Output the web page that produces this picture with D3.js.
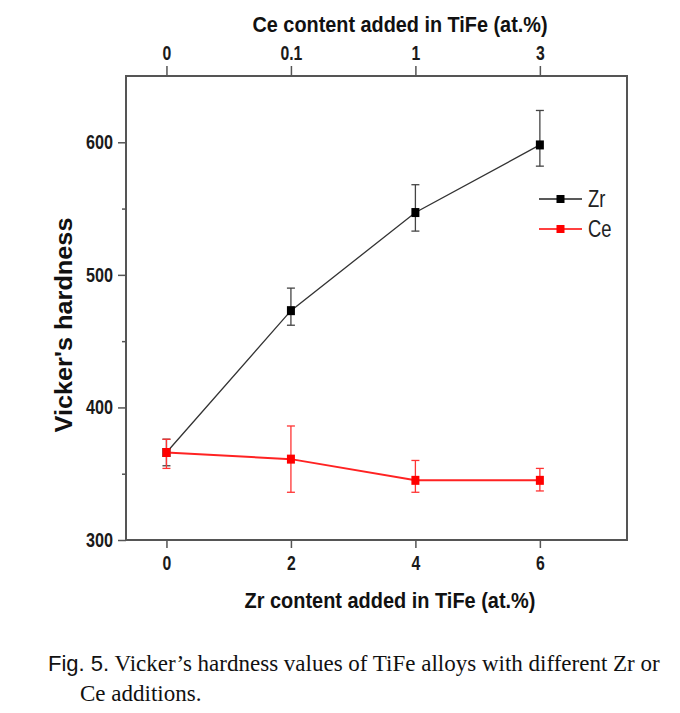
<!DOCTYPE html>
<html>
<head>
<meta charset="utf-8">
<script src="https://cdn.jsdelivr.net/npm/d3@7"></script>
<style>
  body { margin: 0; background: #fff; }
  svg { display: block; }
</style>
</head>
<body>
<script>
// Vicker's hardness of TiFe with Zr / Ce additions

// data
var zrContent = [0, 2, 4, 6];                 // bottom axis (at.%)
var zrHardness = [366, 473, 547, 598];
var zrLow = [356, 462, 533, 582];
var zrHigh = [376, 490, 568, 624];

var ceContent = ["0", "0.1", "1", "3"];       // top axis (at.%)
var ceHardness = [366, 361, 345, 345];
var ceLow = [354, 336, 336, 337];
var ceHigh = [376, 386, 360, 354];

var yTicks = [300, 400, 500, 600];
var yMinor = [350, 450, 550];

var w = 680, h = 713;
var plotLeft = 126, plotRight = 627, plotTop = 76, plotBottom = 540;

var svg = d3.select("body").append("svg")
    .attr("width", w)
    .attr("height", h);

var x = d3.scaleLinear().domain([-0.65, 7.4]).range([plotLeft, plotRight]);
var xTop = d3.scalePoint().domain(ceContent).range([x(0), x(6)]);
var y = d3.scaleLinear().domain([300, 650]).range([plotBottom, plotTop]);

var frameColor = "#555";
var labelFont = "'Liberation Sans', Arial, sans-serif";
var serifFont = "'Liberation Serif', 'Times New Roman', serif";

//squeeze text horizontally, the figure uses a narrow font
function squeeze(sel, k) {
    sel.each(function() {
        var len = this.getComputedTextLength();
        d3.select(this)
            .attr("textLength", len * k)
            .attr("lengthAdjust", "spacingAndGlyphs");
    });
}

//axes
var gx = svg.append("g")
    .attr("transform", "translate(0," + plotBottom + ")")
    .call(d3.axisBottom(x).tickValues(zrContent).tickSize(8).tickPadding(7).tickFormat(d3.format("d")));

var gxTop = svg.append("g")
    .attr("transform", "translate(0," + plotTop + ")")
    .call(d3.axisTop(xTop).tickSize(10).tickPadding(6));

var gy = svg.append("g")
    .attr("transform", "translate(" + plotLeft + ",0)")
    .call(d3.axisLeft(y).tickValues(yTicks).tickSize(8).tickPadding(5));

var gyMinor = svg.append("g")
    .attr("transform", "translate(" + plotLeft + ",0)")
    .call(d3.axisLeft(y).tickValues(yMinor).tickSize(4).tickFormat(""));

[gx, gxTop, gy, gyMinor].forEach(function(g) {
    g.select(".domain").remove();
    g.selectAll("line").attr("stroke", frameColor).attr("stroke-width", 1.5);
    g.selectAll("text")
        .attr("fill", "#1a1a1a")
        .style("font-family", labelFont)
        .style("font-weight", "bold")
        .style("font-size", "20.5px");
});
squeeze(gx.selectAll("text"), 0.77);
squeeze(gxTop.selectAll("text"), 0.77);
squeeze(gy.selectAll("text"), 0.79);

//frame
svg.append("rect")
    .attr("x", plotLeft)
    .attr("y", plotTop)
    .attr("width", plotRight - plotLeft)
    .attr("height", plotBottom - plotTop)
    .attr("fill", "none")
    .attr("stroke", frameColor)
    .attr("stroke-width", 2);

//axis titles
svg.append("text")
    .attr("x", 400)
    .attr("y", 32)
    .attr("text-anchor", "middle")
    .style("font-family", labelFont)
    .style("font-weight", "bold")
    .style("font-size", "22.5px")
    .attr("fill", "#111")
    .attr("textLength", 295)
    .attr("lengthAdjust", "spacingAndGlyphs")
    .text("Ce content added in TiFe (at.%)");

svg.append("text")
    .attr("x", 390)
    .attr("y", 608)
    .attr("text-anchor", "middle")
    .style("font-family", labelFont)
    .style("font-weight", "bold")
    .style("font-size", "22.5px")
    .attr("fill", "#111")
    .attr("textLength", 291)
    .attr("lengthAdjust", "spacingAndGlyphs")
    .text("Zr content added in TiFe (at.%)");

svg.append("text")
    .attr("transform", "translate(72,325) rotate(-90)")
    .attr("text-anchor", "middle")
    .style("font-family", labelFont)
    .style("font-weight", "bold")
    .style("font-size", "23px")
    .attr("fill", "#111")
    .attr("textLength", 215)
    .attr("lengthAdjust", "spacingAndGlyphs")
    .text("Vicker's hardness");

//series
var zrData = zrContent.map(function(d, i) {
    return { px: x(d), v: zrHardness[i], lo: zrLow[i], hi: zrHigh[i] };
});
var ceData = ceContent.map(function(d, i) {
    return { px: xTop(d), v: ceHardness[i], lo: ceLow[i], hi: ceHigh[i] };
});

var line = d3.line()
    .x(function(d) { return d.px; })
    .y(function(d) { return y(d.v); });

function drawSeries(data, color, lineColor, lineWidth, barColor) {
    var g = svg.append("g");
    g.append("path")
        .datum(data)
        .attr("d", line)
        .attr("fill", "none")
        .attr("stroke", lineColor)
        .attr("stroke-width", lineWidth);

    var bars = g.selectAll(".err")
        .data(data)
        .enter()
        .append("g")
        .attr("class", "err")
        .attr("stroke", barColor)
        .attr("stroke-width", 1.3);
    bars.append("line")
        .attr("x1", function(d) { return d.px; })
        .attr("x2", function(d) { return d.px; })
        .attr("y1", function(d) { return y(d.lo); })
        .attr("y2", function(d) { return y(d.hi); });
    bars.append("line")
        .attr("x1", function(d) { return d.px - 4; })
        .attr("x2", function(d) { return d.px + 4; })
        .attr("y1", function(d) { return y(d.lo); })
        .attr("y2", function(d) { return y(d.lo); });
    bars.append("line")
        .attr("x1", function(d) { return d.px - 4; })
        .attr("x2", function(d) { return d.px + 4; })
        .attr("y1", function(d) { return y(d.hi); })
        .attr("y2", function(d) { return y(d.hi); });

    g.selectAll(".mark")
        .data(data)
        .enter()
        .append("rect")
        .attr("class", "mark")
        .attr("x", function(d) { return d.px - 4; })
        .attr("y", function(d) { return y(d.v) - 4.5; })
        .attr("width", 8)
        .attr("height", 9)
        .attr("fill", color);
}

drawSeries(zrData, "#000", "#333", 1.3, "#444");
drawSeries(ceData, "#f00", "#f22", 2, "#f33");

//legend
var legend = [
    { name: "Zr", color: "#000", line: "#222", y: 199 },
    { name: "Ce", color: "#f00", line: "#f00", y: 229 }
];
var lg = svg.selectAll(".legend")
    .data(legend)
    .enter()
    .append("g")
    .attr("class", "legend");
lg.append("line")
    .attr("x1", 539).attr("x2", 582)
    .attr("y1", function(d) { return d.y; })
    .attr("y2", function(d) { return d.y; })
    .attr("stroke", function(d) { return d.line; })
    .attr("stroke-width", 1.3);
lg.append("rect")
    .attr("x", 556.5)
    .attr("y", function(d) { return d.y - 4; })
    .attr("width", 8)
    .attr("height", 8)
    .attr("fill", function(d) { return d.color; });
var lgText = lg.append("text")
    .attr("x", 588)
    .attr("y", function(d) { return d.y + 8; })
    .style("font-family", labelFont)
    .style("font-size", "23px")
    .attr("fill", "#222")
    .text(function(d) { return d.name; });
squeeze(lgText, 0.8);

//caption
var cap = svg.append("text")
    .attr("x", 48)
    .attr("y", 671)
    .attr("fill", "#111");
cap.append("tspan")
    .style("font-family", labelFont)
    .style("font-size", "22px")
    .text("Fig. 5.");
cap.append("tspan")
    .style("font-family", serifFont)
    .style("font-size", "23px")
    .text(" Vicker\u2019s hardness values of TiFe alloys with different Zr or");

svg.append("text")
    .attr("x", 80)
    .attr("y", 701)
    .attr("fill", "#111")
    .style("font-family", serifFont)
    .style("font-size", "23px")
    .text("Ce additions.");
</script>
</body>
</html>
